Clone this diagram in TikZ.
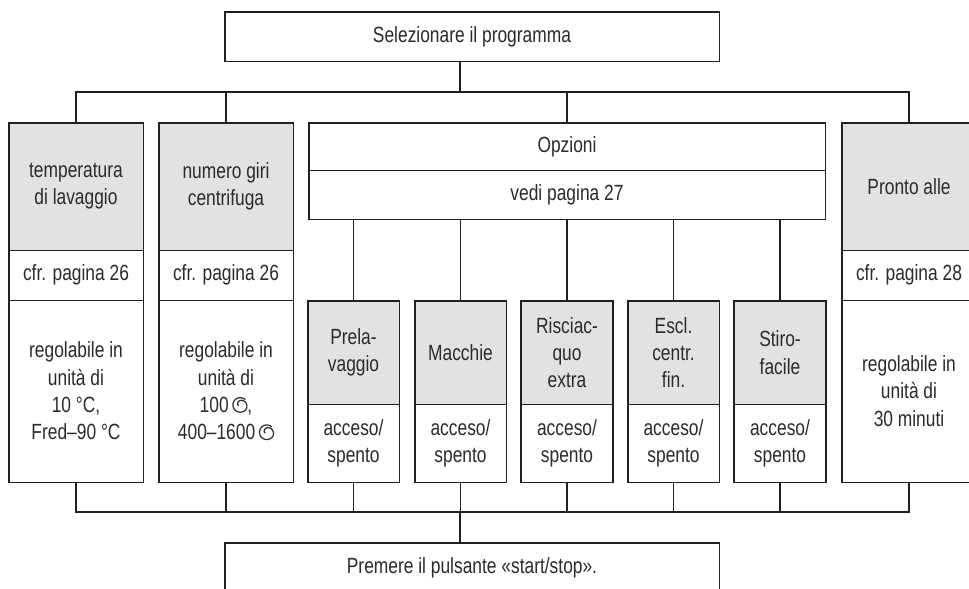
\documentclass[tikz,border=0pt]{standalone}
\usepackage{fontspec}
\setmainfont{Liberation Sans}[FakeStretch=0.79]
\definecolor{ink}{RGB}{35,31,32}
\definecolor{txt}{RGB}{45,42,43}
\definecolor{shade}{RGB}{225,226,228}
\newcommand\spinsym{\tikz[baseline=0pt,x=1em,y=1em,line width=0.055em,line cap=round]
  \draw[txt] plot[domain=50:560,samples=90,smooth]
  ({0.33+(0.33-0.25*max(0,\x-330)/230)*cos(\x)},{0.345+(0.33-0.25*max(0,\x-330)/230)*sin(\x)});}
\tikzset{
  cell/.style={draw=ink, line width=0.7pt, inner sep=0pt, align=center, text=txt,
    font=\fontsize{16.5}{20.5}\selectfont},
  grey/.style={cell, fill=shade},
  plain/.style={cell, fill=white},
  bw/.style={minimum width=#1*0.75pt},
  bh/.style={minimum height=#1*0.75pt},
  outline/.style={draw=ink, line width=0.95pt},
  conn/.style={draw=ink, line width=0.95pt}
}
\begin{document}
\begin{tikzpicture}[x=0.75pt,y=-0.75pt]
\useasboundingbox (0,0) rectangle (969,588);
\clip (0,0) rectangle (969,588);
% top and bottom boxes
\node[plain,bw=494,bh=49] (top) at (472,36.5) {Selezionare il programma};
\node[plain,bw=494,bh=49] (bot) at (472,567.5) {Premere il pulsante «start/stop».};
\draw[outline] (top.north west) rectangle (top.south east);
\draw[outline] (bot.north west) rectangle (bot.south east);
% column 1
\node[grey,bw=134,bh=127] (g1) at (76,186.5) {temperatura\\di lavaggio};
\node[plain,bw=134,bh=50] (c1) at (76,275) {cfr. pagina 26};
\node[plain,bw=134,bh=182] (w1) at (76,391) {regolabile in\\unità di\\10 °C,\\Fred–90 °C};
\draw[outline] (g1.north west) rectangle (w1.south east);
% column 2
\node[grey,bw=134,bh=127] (g2) at (226,186.5) {numero giri\\centrifuga};
\node[plain,bw=134,bh=50] (c2) at (226,275) {cfr. pagina 26};
\node[plain,bw=134,bh=182] (w2) at (226,391) {regolabile in\\unità di\\100\,\spinsym,\\400–1600\,\spinsym};
\draw[outline] (g2.north west) rectangle (w2.south east);
% options
\node[plain,bw=516,bh=47] (op1) at (567,146.5) {Opzioni};
\node[plain,bw=516,bh=49] (op2) at (567,194.5) {vedi pagina 27};
\draw[outline] (op1.north west) rectangle (op2.south east);
% option boxes
\node[grey,bw=91,bh=103] (m1) at (353.5,352.5) {Prela-\\vaggio};
\node[plain,bw=91,bh=78] (n1) at (353.5,443) {acceso/\\spento};
\node[grey,bw=91,bh=103] (m2) at (460.5,352.5) {Macchie};
\node[plain,bw=91,bh=78] (n2) at (460.5,443) {acceso/\\spento};
\node[grey,bw=91,bh=103] (m3) at (567,352.5) {Risciac-\\quo\\extra};
\node[plain,bw=91,bh=78] (n3) at (567,443) {acceso/\\spento};
\node[grey,bw=91,bh=103] (m4) at (673.5,352.5) {Escl.\\centr.\\fin.};
\node[plain,bw=91,bh=78] (n4) at (673.5,443) {acceso/\\spento};
\node[grey,bw=91,bh=103] (m5) at (780,352.5) {Stiro-\\facile};
\node[plain,bw=91,bh=78] (n5) at (780,443) {acceso/\\spento};
\foreach \i in {1,...,5}{\draw[outline] (m\i.north west) rectangle (n\i.south east);}
% column Pronto
\node[grey,bw=134,bh=127] (gp) at (909,186.5) {Pronto alle};
\node[plain,bw=134,bh=50] (cp) at (909,275) {cfr. pagina 28};
\node[plain,bw=134,bh=182] (wp) at (909,391) {regolabile in\\unità di\\30 minuti};
\draw[outline] (gp.north west) rectangle (wp.south east);
% top bus
\coordinate (bt) at (460,92);
\draw[conn] (g1.north) |- (gp.north |- bt) -- (gp.north);
\draw[conn] (bt |- top.south) -- (bt);
\draw[conn] (g2.north) -- (g2.north |- bt);
\draw[conn] (op1.north) -- (op1.north |- bt);
% options to option boxes
\foreach \i in {1,...,5}{\draw[conn] (m\i.north) -- (m\i.north |- op2.south);}
% bottom bus
\coordinate (bb) at (460,512);
\draw[conn] (w1.south) |- (wp.south |- bb) -- (wp.south);
\draw[conn] (w2.south) -- (w2.south |- bb);
\foreach \i in {1,...,5}{\draw[conn] (n\i.south) -- (n\i.south |- bb);}
\draw[conn] (bb) -- (bb |- bot.north);
\end{tikzpicture}
\end{document}
